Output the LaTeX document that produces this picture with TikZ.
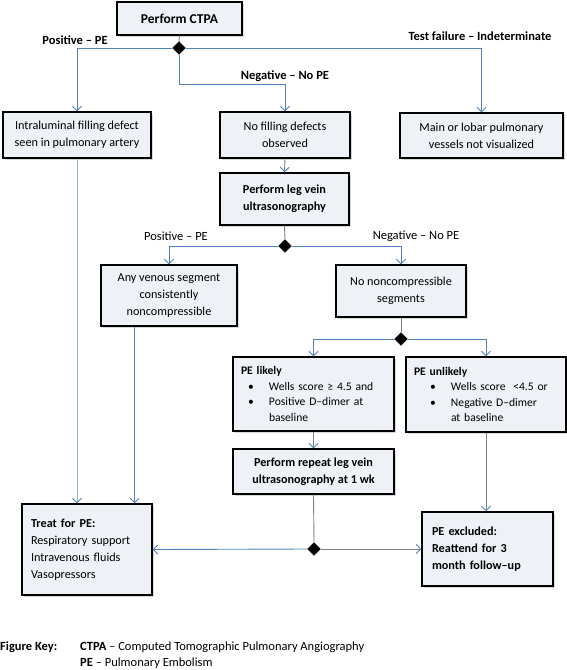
\documentclass[tikz,border=0pt]{standalone}
\usepackage{fontspec}
\setmainfont{Carlito}
\usetikzlibrary{shapes.geometric,arrows.meta,shadows,calc}
\definecolor{lnblue}{HTML}{4F81BD}
\definecolor{lngray}{HTML}{808080}
\definecolor{lnlight}{HTML}{9FB4CF}
\definecolor{boxfill}{HTML}{EEF1F5}
\begin{document}
\begin{tikzpicture}[x=1pt,y=-1pt,
  box/.style={draw=black, line width=1.4pt, fill=boxfill,
    drop shadow={shadow xshift=1.5pt,shadow yshift=-2pt,fill=black!30,opacity=0.5},
    inner sep=0pt, font=\fontsize{12.2}{17}\selectfont, align=center},
  lbox/.style={box, align=left},
  dmd/.style={diamond, fill=black, draw=black, minimum size=13pt, inner sep=0pt},
  lbl/.style={font=\fontsize{12.5}{14}\selectfont, inner sep=0pt},
  conn/.style={draw=lnblue, line width=0.9pt},
  plain/.style={draw=lngray, line width=0.9pt},
  arr/.style={-{Straight Barb[length=4.5pt,width=9pt,color=lnblue]}},
]
\useasboundingbox (0,0) rectangle (567,670);

% boxes
\node[box, minimum width=125pt, minimum height=33pt, font=\fontsize{13.5}{16}\selectfont] (ctpa) at (179.5,18.5) {\textbf{Perform CTPA}};
\node[dmd] (d1) at (179,48) {};
\node[box, minimum width=148pt, minimum height=46pt] (intra) at (77,135) {Intraluminal filling defect\\seen in pulmonary artery};
\node[box, minimum width=130pt, minimum height=46pt] (nofill) at (285,135) {No filling defects\\observed};
\node[box, minimum width=163pt, minimum height=45pt] (main) at (481.5,135.5) {Main or lobar pulmonary\\vessels not visualized};
\node[box, minimum width=129pt, minimum height=52pt] (legus) at (284.5,199) {\textbf{Perform leg vein}\\\textbf{ultrasonography}};
\node[dmd] (d2) at (285,246) {};
\node[box, minimum width=136pt, minimum height=61pt] (anyven) at (169,295.5) {Any venous segment\\consistently\\noncompressible};
\node[box, minimum width=130pt, minimum height=52pt] (nononc) at (401,291) {No noncompressible\\segments};
\node[dmd] (d3) at (401,339) {};
\node[lbox, minimum width=161pt, minimum height=74pt, text width=145pt, font=\fontsize{11.6}{15.5}\selectfont] (likely) at (313.5,394)
  {\textbf{PE likely}\\
   \hspace*{7pt}\makebox[21pt][l]{\textbullet}Wells score ≥ 4.5 and\\
   \hspace*{7pt}\makebox[21pt][l]{\textbullet}Positive D–dimer at\\
   \hspace*{28pt}baseline};
\node[lbox, minimum width=160pt, minimum height=75pt, text width=144pt, font=\fontsize{11.6}{15.5}\selectfont] (unlikely) at (486,394.5)
  {\textbf{PE unlikely}\\
   \hspace*{16pt}\makebox[21pt][l]{\textbullet}Wells score\ \ <4.5 or\\
   \hspace*{16pt}\makebox[21pt][l]{\textbullet}Negative D–dimer\\
   \hspace*{37pt}at baseline};
\node[box, minimum width=161pt, minimum height=45pt] (repeat) at (313.5,471.5) {\textbf{Perform repeat leg vein}\\\textbf{ultrasonography at 1 wk}};
\node[dmd] (d4) at (314,549) {};
\node[lbox, minimum width=130pt, minimum height=91pt, text width=112pt] (treat) at (87,549.5)
  {\textbf{Treat for PE:}\\Respiratory support\\Intravenous fluids\\Vasopressors};
\node[lbox, minimum width=131pt, minimum height=74pt, text width=111pt] (excl) at (487.5,549)
  {\textbf{PE excluded:}\\\textbf{Reattend for 3}\\\textbf{month follow–up}};

% labels
\node[lbl] (l1) at (75,40) {\textbf{Positive – PE}};
\node[lbl] (l2) at (285,76) {\textbf{Negative – No PE}};
\node[lbl] (l3) at (480,36) {\textbf{Test failure – Indeterminate}};
\node[lbl] (l4) at (176,236) {Positive – PE};
\node[lbl] (l5) at (416,236) {Negative – No PE};

% connectors
\coordinate (k1) at (179,84);
\draw[plain] (ctpa.south) -- (d1.north);
\draw[conn,arr] (d1.west) -| (intra.north);
\draw[conn,arr] (d1.east) -| (main.north);
\draw[conn,arr] (d1.south) -- (k1) -| (nofill.north);
\draw[plain,arr] (nofill.south) -- (legus.north);
\draw[plain] (legus.south) -- (d2.north);
\draw[conn,arr] (d2.west) -| (anyven.north);
\draw[conn,arr] (d2.east) -| (nononc.north);
\draw[plain] (nononc.south) -- (d3.north);
\draw[conn,arr] (d3.west) -| (likely.north);
\draw[conn,arr] (d3.east) -| (unlikely.north);
\draw[plain,arr] (likely.south) -- (repeat.north);
\draw[plain,arr] (unlikely.south) -- (unlikely.south |- excl.north);
\draw[plain] (repeat.south) -- (d4.north);
\draw[conn,arr] (d4.west) -- (treat.east);
\draw[plain,arr] (d4.east) -- (excl.west);
\coordinate (a1) at (intra.south);
\draw[draw=lnlight, line width=0.9pt, arr] (a1) -- (a1 |- treat.north);
\coordinate (a2) at ($(anyven.south west)!0.25!(anyven.south east)$);
\draw[conn, draw=lnblue!80!gray, arr] (a2) -- (a2 |- treat.north);

% key
\node[lbl, anchor=base west] (k0) at (0,650) {\textbf{Figure Key:}};
\node[lbl, anchor=base west] (k2) at (80,650) {\textbf{CTPA} – Computed Tomographic Pulmonary Angiography};
\node[lbl, anchor=base west] (k3) at (80,666) {\textbf{PE} – Pulmonary Embolism};
\end{tikzpicture}
\end{document}
